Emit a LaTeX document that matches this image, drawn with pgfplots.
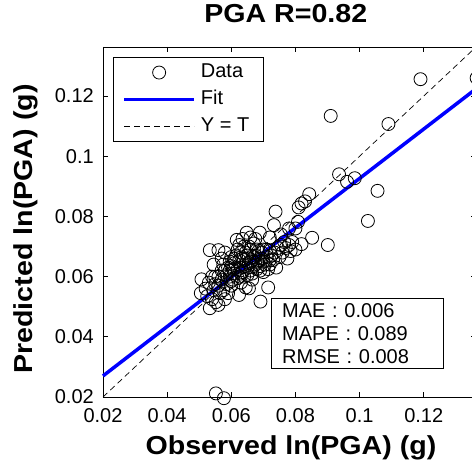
\documentclass[border=0pt]{standalone}
\usepackage{fontspec}
\setmainfont{Liberation Sans}
\newfontfamily\labelfont[FakeStretch=1.1]{Liberation Sans}
\usepackage{pgfplots}
\pgfplotsset{compat=1.18}
\usepackage{pgfplotstable}

\pgfplotstableread{
x y
0.0505 0.0545
0.0507 0.0591
0.0520 0.0560
0.0525 0.0535
0.0530 0.0580
0.0533 0.0495
0.0540 0.0525
0.0545 0.0555
0.0550 0.0600
0.0552 0.0515
0.0560 0.0506
0.0560 0.0570
0.0565 0.0545
0.0570 0.0590
0.0575 0.0555
0.0580 0.0525
0.0580 0.0620
0.0585 0.0575
0.0590 0.0545
0.0595 0.0600
0.0533 0.0688
0.0560 0.0688
0.0545 0.0640
0.0570 0.0660
0.0580 0.0680
0.0595 0.0650
0.0600 0.0665
0.0595 0.0620
0.0600 0.0635
0.0605 0.0590
0.0610 0.0610
0.0610 0.0645
0.0615 0.0670
0.0617 0.0722
0.0620 0.0625
0.0625 0.0600
0.0625 0.0655
0.0630 0.0630
0.0630 0.0680
0.0635 0.0615
0.0640 0.0655
0.0640 0.0700
0.0645 0.0635
0.0648 0.0746
0.0650 0.0605
0.0650 0.0670
0.0655 0.0645
0.0660 0.0620
0.0660 0.0690
0.0665 0.0655
0.0670 0.0635
0.0670 0.0710
0.0675 0.0670
0.0680 0.0625
0.0680 0.0650
0.0685 0.0685
0.0690 0.0635
0.0689 0.0746
0.0695 0.0660
0.0700 0.0615
0.0700 0.0690
0.0705 0.0640
0.0710 0.0665
0.0715 0.0625
0.0720 0.0655
0.0720 0.0685
0.0730 0.0655
0.0735 0.0680
0.0740 0.0630
0.0745 0.0695
0.0750 0.0665
0.0755 0.0705
0.0760 0.0680
0.0765 0.0715
0.0770 0.0695
0.0775 0.0660
0.0780 0.0705
0.0785 0.0685
0.0790 0.0715
0.0800 0.0690
0.0624 0.0539
0.0655 0.0561
0.0645 0.0564
0.0691 0.0517
0.0715 0.0564
0.0600 0.0570
0.0630 0.0580
0.0665 0.0590
0.0733 0.0771
0.0738 0.0816
0.0720 0.0730
0.0755 0.0740
0.0780 0.0760
0.0800 0.0760
0.0808 0.0782
0.0819 0.0708
0.0852 0.0729
0.0901 0.0705
0.0810 0.0830
0.0819 0.0843
0.0830 0.0850
0.0843 0.0874
0.0936 0.0940
0.0961 0.0915
0.0985 0.0927
0.1056 0.0885
0.1026 0.0785
0.0910 0.1134
0.1090 0.1107
0.1190 0.1256
0.0552 0.0212
0.0577 0.0196
0.1365 0.1260
0.0585 0.0605
0.0600 0.0585
0.0605 0.0625
0.0610 0.0660
0.0620 0.0595
0.0620 0.0690
0.0630 0.0610
0.0635 0.0660
0.0640 0.0600
0.0645 0.0680
0.0650 0.0630
0.0655 0.0700
0.0660 0.0650
0.0665 0.0610
0.0670 0.0665
0.0675 0.0640
0.0680 0.0690
0.0685 0.0655
0.0690 0.0620
0.0695 0.0680
0.0700 0.0650
0.0710 0.0690
0.0720 0.0640
0.0725 0.0670
0.0570 0.0620
0.0575 0.0640
0.0590 0.0630
0.0560 0.0600
0.0550 0.0575
0.0540 0.0600
0.0660 0.0730
0.0635 0.0725
0.0625 0.0705
0.0675 0.0725
}\datatable

\pgfplotstableread{
x y
0.0200 0.0270
0.1363 0.1224
}\fittable

\pgfplotstableread{
x y
0.0200 0.0200
0.1363 0.1363
}\idtable

\begin{document}
\begin{tikzpicture}
\path[use as bounding box] (-103pt,-68pt) rectangle (369pt,397pt);
\begin{axis}[
  at={(0pt,0pt)}, anchor=south west,
  scale only axis,
  width=373pt, height=350pt,
  clip=false,
  xmin=0.02, xmax=0.1363, ymin=0.02, ymax=0.1363,
  xtick={0.02,0.04,0.06,0.08,0.1,0.12},
  xticklabels={0.02,0.04,0.06,0.08,0.1,0.12},
  ytick={0.02,0.04,0.06,0.08,0.1,0.12},
  yticklabels={0.02,0.04,0.06,0.08,0.1,0.12},
  tick align=inside,
  major tick length=5pt,
  tick style={black, line width=0.8pt},
  axis line style={black, line width=0.8pt},
  ticklabel style={font=\fontsize{20}{24}\selectfont},
  xticklabel style={inner sep=0pt, yshift=-11pt},
  yticklabel style={inner sep=0pt, xshift=-9pt},
  title={PGA R=0.82},
  title style={at={(axis description cs:0.49,1)}, anchor=base, yshift=18pt, inner sep=0pt, font=\labelfont\fontsize{26}{30}\selectfont\bfseries},
  xlabel={Observed ln(PGA) (g)},
  xlabel style={at={(axis description cs:0.504,0)}, anchor=base, yshift=-58pt, inner sep=0pt, font=\labelfont\fontsize{26}{30}\selectfont\bfseries},
  ylabel={Predicted ln(PGA) (g)},
  ylabel style={at={(axis description cs:-0.1877,0.48)}, anchor=base, inner sep=0pt, font=\labelfont\fontsize{26}{30}\selectfont\bfseries},
  legend image code/.code={\draw[#1] (0pt,0pt) -- (70pt,0pt);},
  legend cell align=left,
  legend style={at={(axis description cs:0.0268,0.971)}, anchor=north west,
    draw=black, line width=0.8pt, fill=white, inner xsep=9pt, inner ysep=2pt,
    font=\fontsize{20}{24}\selectfont, row sep=1pt,
    nodes={text height=14pt, text depth=4pt, inner ysep=4pt, inner xsep=5pt}},
]
\addplot[only marks, mark=o, mark size=6.5pt, black, mark options={line width=0.8pt},
  legend image code/.code={\draw[black, line width=0.8pt] (35pt,0pt) circle (6.5pt);}]
  table[x=x, y=y] {\datatable};
\addlegendentry{Data}
\addplot[blue, line width=3.5pt] table[x=x, y=y] {\fittable};
\addlegendentry{Fit}
\addplot[black, line width=0.7pt, dash pattern=on 6pt off 4pt] table[x=x, y=y] {\idtable};
\addlegendentry{Y = T}
\node[draw=black, line width=0.8pt, fill=white, anchor=north west, align=left,
  text width=150pt, inner xsep=11pt, inner ysep=5pt,
  font=\fontsize{20}{23}\selectfont]
  at (axis description cs:0.450,0.283) {MAE : 0.006\\MAPE : 0.089\\RMSE : 0.008};
\end{axis}
\end{tikzpicture}
\end{document}
